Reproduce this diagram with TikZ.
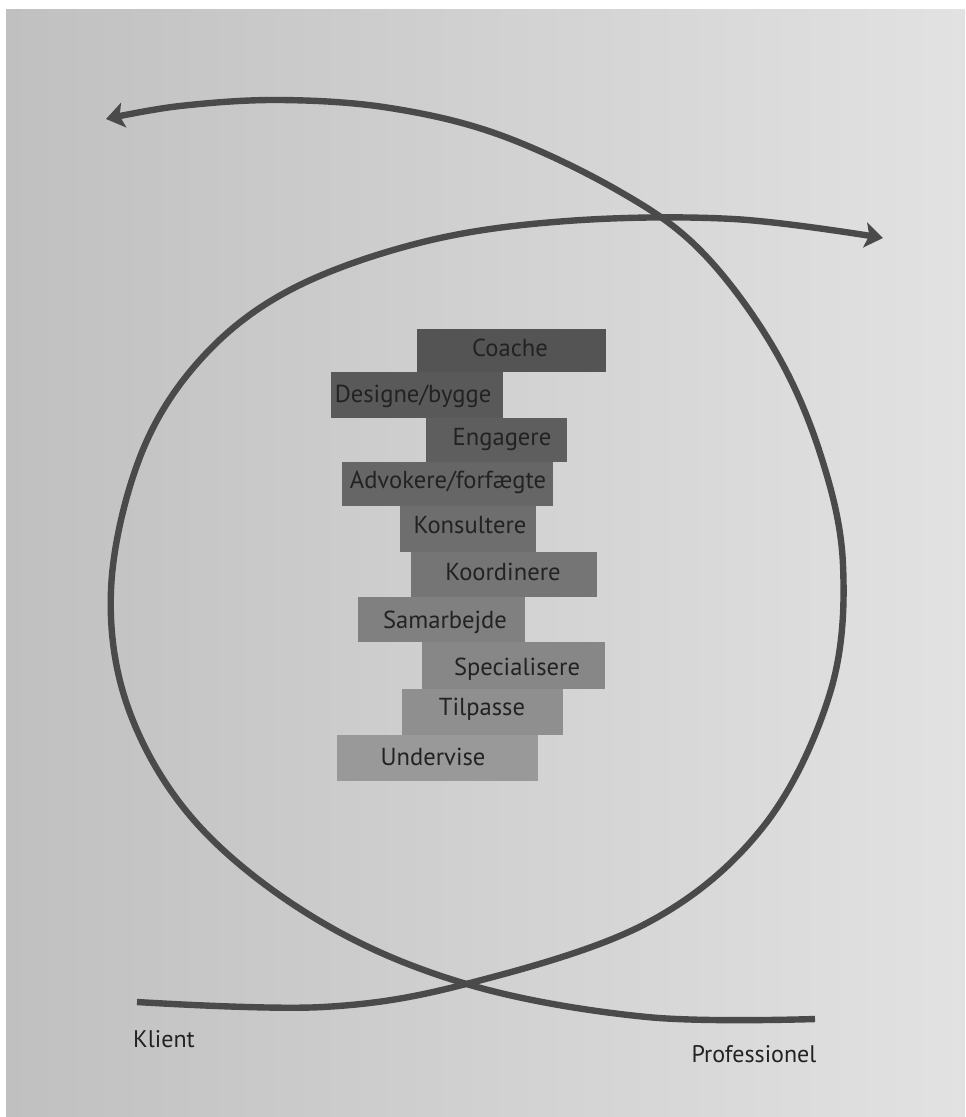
\documentclass[tikz,border=0pt]{standalone}
\usepackage{fontspec}
\setmainfont{PT Sans}
\usetikzlibrary{arrows.meta}
\definecolor{bgL}{HTML}{C0C0C0}
\definecolor{bgR}{HTML}{E2E2E2}
\definecolor{lineC}{HTML}{4A4A4A}
\definecolor{txtC}{HTML}{222222}
\tikzset{
  curve/.style={draw=lineC, line width=3.2pt, line cap=butt},
  tip/.style={-{Stealth[length=9pt,width=12.5pt,inset=2pt]}},
  lbl/.style={text=txtC, font=\fontsize{12.3}{14}\selectfont, anchor=base, inner sep=0pt},
  foot/.style={text=txtC, font=\fontsize{12}{14}\selectfont, anchor=base, inner sep=0pt}
}
\begin{document}
\begin{tikzpicture}[x=0.5pt,y=-0.5pt]
\useasboundingbox (0,0) rectangle (965,1117);
\fill[white] (0,0) rectangle (965,1117);
\shade[left color=bgL, right color=bgR] (6,10) rectangle (965,1117);
% boxes
\fill[black!67] (417,329) rectangle (606,372);
\fill[black!65] (331,372) rectangle (503,418);
\fill[black!63] (426,418) rectangle (567,462);
\fill[black!60] (342,462) rectangle (553,506);
\fill[black!57] (400,506) rectangle (536,552);
\fill[black!54] (411,552) rectangle (597,597);
\fill[black!50] (358,597) rectangle (525,642);
\fill[black!47] (422,642) rectangle (605,689);
\fill[black!44] (402,689) rectangle (563,735);
\fill[black!40] (337,735) rectangle (538,781);
% labels
\node[lbl] (coache) at (510,357) {Coache};
\node[lbl] (designe) at (413,402) {Designe/bygge};
\node[lbl] (engagere) at (502,445) {Engagere};
\node[lbl] (advokere) at (448,488) {Advokere/forfægte};
\node[lbl] (konsultere) at (470,533) {Konsultere};
\node[lbl] (koordinere) at (503,580) {Koordinere};
\node[lbl] (samarbejde) at (445,628) {Samarbejde};
\node[lbl] (specialisere) at (517,675) {Specialisere};
\node[lbl] (tilpasse) at (482,715) {Tilpasse};
\node[lbl] (undervise) at (433,765) {Undervise};
% curves
\draw[curve, tip] plot[smooth, tension=0.6] coordinates {
 (137,1002) (323,1007) (470,983) (647,923) (763,827) (830,693) (843,565)
 (820,453) (773,347) (700,250) (617,190) (500,135) (390,108) (280,100)
 (180,106) (106,119)};
\draw[curve, tip] plot[smooth, tension=0.6] coordinates {
 (815,1019) (647,1017) (470,985) (323,923) (200,827) (130,713) (111,590)
 (140,457) (200,360) (290,290) (423,242) (567,221) (733,219) (883,238)};
\node[foot] (klient) at (164,1047) {Klient};
\node[foot] (prof) at (754,1062) {Professionel};
\end{tikzpicture}
\end{document}
